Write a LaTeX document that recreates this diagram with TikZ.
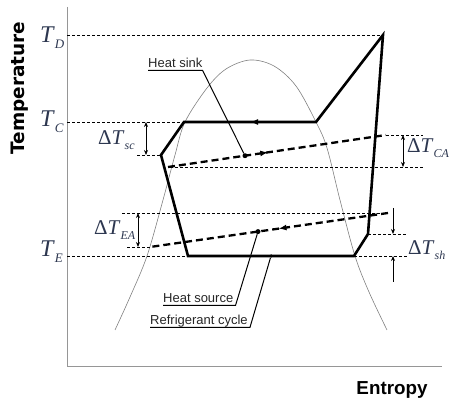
\documentclass[tikz,border=0pt]{standalone}
\usepackage{fontspec}
\setmainfont{Liberation Serif}
\newfontfamily\lblfont{Liberation Sans}
\newfontfamily\djfont{DejaVu Sans}
\usetikzlibrary{arrows.meta,decorations.markings}
\definecolor{labcol}{RGB}{45,55,80}
\definecolor{axcol}{RGB}{150,150,150}
\newcommand\TLab[1]{\fontsize{24}{24}\selectfont\textit{T}\raisebox{-6pt}{\fontsize{13}{13}\selectfont\textit{#1}}}
\newcommand\DLab[1]{\fontsize{21}{21}\selectfont Δ\textit{T}\raisebox{-5pt}{\fontsize{12}{13}\selectfont\textit{#1}}}
\begin{document}
\begin{tikzpicture}[x=1pt,y=-1pt,
  axisline/.style={axcol, line width=1pt},
  guide/.style={line width=0.8pt, dash pattern=on 3pt off 2pt},
  cyc/.style={line width=2.6pt, line join=miter},
  flow/.style={line width=2.3pt, dash pattern=on 7pt off 4pt},
  dimarrow/.style={line width=1pt, {Stealth[length=5pt,width=4pt]}-{Stealth[length=5pt,width=4pt]}},
  sarrow/.style={line width=1pt, -{Stealth[length=5pt,width=4pt]}},
  leader/.style={line width=1pt},
  dotnode/.style={circle, fill, inner sep=0pt, minimum size=5pt},
  lbl/.style={font=\lblfont\fontsize{13}{14}\selectfont, inner sep=0pt, text=black!85},
  tlab/.style={inner sep=0pt, text=labcol, anchor=base west},
  midarrow/.style={postaction={decorate, decoration={markings, mark=at position #1 with {\arrow{Latex[length=8pt,width=6pt]}}}}}
]
\useasboundingbox (0,0) rectangle (451,404);

% axes
\draw[axisline] (67,7) -- (67,367) -- (442,367);
\node[rotate=90, font=\djfont\bfseries\fontsize{18.5}{20}\selectfont, inner sep=0pt] (ylab) at (20,88) {Temperature};
\node[font=\lblfont\bfseries\fontsize{18.8}{20}\selectfont, inner sep=0pt] (xlab) at (392,390) {Entropy};

% saturation dome
\draw[gray, line width=0.6pt] plot[smooth, tension=0.55] coordinates {(115,330) (130,297) (147,256) (163,200) (175,155) (185,122) (207,88) (226,69) (250,60) (274,66) (296,86) (316,122) (327,148) (340,200) (355,256) (369,292) (387,330)};

% cycle points
\coordinate (A) at (184,122);
\coordinate (B) at (316,122);
\coordinate (D) at (383,35);
\coordinate (P) at (368,234);
\coordinate (E) at (354,256);
\coordinate (F) at (188,256);
\coordinate (G) at (161,155);
% secondary fluid lines
\coordinate (S1) at (168,167);
\coordinate (S2) at (386,135);
\coordinate (R1) at (388,213);
\coordinate (R2) at (150,247);

% guide lines
\draw[guide] (67,35) -- (D);
\draw[guide] (67,122) -- (A);
\draw[guide] (67,256) -- (F);
\draw[guide] (137,155) -- (G);
\draw[guide] (S2) -- (423,135);
\draw[guide] (170,167) -- (423,167);
\draw[guide] (122,213) -- (R1);
\draw[guide] (127,247) -- (R2);
\draw[guide] (P) -- (407,234);
\draw[guide] (E) -- (407,256);

% cycle
\draw[cyc] (A) -- (B) -- (D) -- (P) -- (E) -- (F) -- (G) -- cycle;
\draw[cyc, midarrow=0.5] (B) -- (A);

% heat sink and source
\draw[flow, midarrow=0.46] (S1) -- (S2);
\draw[flow, midarrow=0.46] (R1) -- (R2);

\node[dotnode] (sinkdot) at (245,155.7) {};
\node[dotnode] (srcdot) at (258,231.6) {};
\node[dotnode, minimum size=3.5pt] (cycdot) at (271,256) {};

% dimension arrows
\draw[dimarrow] (146,122) -- (146,155);
\draw[dimarrow] (403,135) -- (403,167);
\draw[dimarrow] (138,213) -- (138,247);
\draw[sarrow] (393,208) -- (393,234);
\draw[sarrow] (393,282) -- (393,256);

% temperature labels
\node[tlab] (tD) at (40,43) {\TLab{D}};
\node[tlab] (tC) at (40,127) {\TLab{C}};
\node[tlab] (tE) at (40,257) {\TLab{E}};
\node[tlab] (dsc) at (98,145) {\DLab{sc}};
\node[tlab] (dea) at (94,235) {\DLab{EA}};
\node[tlab] (dca) at (407,153) {\DLab{CA}};
\node[tlab] (dsh) at (408,255) {\DLab{sh}};

% text labels with leaders
\node[lbl, anchor=base west] (hsk) at (148,68) {Heat sink};
\node[lbl, anchor=base west] (hsr) at (163,303) {Heat source};
\node[lbl, anchor=base west] (rcy) at (150,325) {Refrigerant cycle};
\draw[leader] ([yshift=-2.5pt]hsk.base west) -- ([yshift=-2.5pt]hsk.base east) -- (sinkdot);
\draw[leader] ([yshift=-2.5pt]hsr.base west) -- ([yshift=-2.5pt,xshift=2pt]hsr.base east) -- (srcdot);
\draw[leader] ([yshift=-2.5pt]rcy.base west) -- ([yshift=-2.5pt,xshift=2pt]rcy.base east) -- (cycdot);
\end{tikzpicture}
\end{document}
